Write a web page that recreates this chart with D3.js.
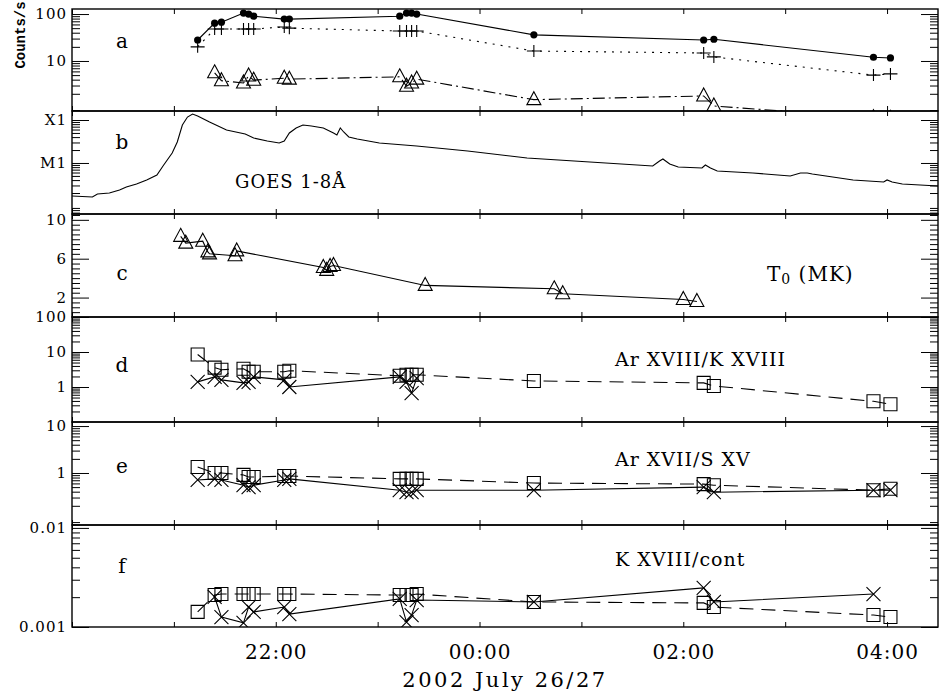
<!DOCTYPE html>
<html><head><meta charset="utf-8">
<script src="https://cdn.jsdelivr.net/npm/d3@7"></script>
<style>body{margin:0;background:#fff}svg{display:block}</style>
</head><body><svg id="chart" width="941" height="694"></svg>
<script>
// ---------------- data ----------------
const obsTimes = ["21:14","21:24","21:28","21:41","21:44","21:47","22:05","22:08","23:13","23:17","23:20","23:23","00:32","02:12","02:18","03:52","04:02"];
// panel a : count rates
const countsDot  = [28,64,67,105,100,90,78,78,90,105,105,100,36,28,29,12,11.6];
const countsPlus = [20,48,48,48,48,48,53,50,43.5,43.5,43.5,43.5,16.3,14.8,12.2,5.0,5.3];
const countsTri  = [null,5.6,3.8,3.4,4.8,3.9,4.3,4.1,4.6,2.9,3.4,4.1,1.5,1.8,1.1,0.62,0.6];
// panel b : GOES 1-8 A flux (W m^-2)
const goesTimes = ["20:00","20:12","20:15","20:22","20:28","20:32","20:38","20:44","20:50","20:54","20:59","21:02","21:05","21:08","21:11","21:14","21:21","21:31","21:42","21:47","21:55","22:02","22:05","22:08","22:12","22:16","22:21","22:28","22:34","22:36","22:38","22:40","22:43","22:48","23:01","23:23","23:53","00:28","01:05","01:42","01:46","01:48","01:52","01:57","02:11","02:13","02:16","02:20","02:41","03:03","03:09","03:13","03:16","03:40","03:58","04:00","04:03","04:09","04:30"];
const goesFlux = [1.71e-6,1.62e-6,1.9e-6,2.0e-6,2.35e-6,2.77e-6,3.25e-6,4.03e-6,5.26e-6,8.98e-6,1.71e-5,3.08e-5,7.65e-5,1.17e-4,1.38e-4,1.24e-4,8.98e-5,5.85e-5,4.72e-5,3.81e-5,3.25e-5,2.92e-5,3.25e-5,4.99e-5,6.52e-5,7.65e-5,7.25e-5,6.52e-5,4.99e-5,4.48e-5,6.52e-5,5.26e-5,4.03e-5,3.61e-5,2.92e-5,2.49e-5,1.9e-5,1.31e-5,1.05e-5,8.5e-6,1.11e-5,1.24e-5,9.5e-6,8.07e-6,7.65e-6,8.98e-6,7.65e-6,6.52e-6,5.85e-6,4.99e-6,5.85e-6,5.85e-6,5.55e-6,4.03e-6,3.61e-6,4.03e-6,3.61e-6,3.25e-6,2.92e-6];
// panel c : temperature T0 (MK)
const tempTimes = ["21:04","21:07","21:17","21:20","21:21","21:36","21:37","22:28","22:30","22:32","22:34","23:28","00:44","00:49","02:00","02:08"];
const tempVals  = [8.3,7.6,7.8,6.7,6.5,6.3,6.8,5.1,4.8,5.2,5.3,3.25,2.9,2.4,1.8,1.6];
// panel d : Ar XVIII / K XVIII
const ratioDSq = [8.5,3.57,3.12,3.33,2.73,2.73,2.73,2.92,2.09,2.23,2.23,2.23,1.49,1.31,1.07,0.39,0.32];
const ratioDX  = [1.40,1.95,1.6,1.31,1.40,1.95,1.6,1.0,1.95,1.4,0.67,1.8,null,null,null,null,null];
// panel e : Ar XVII / S XV
const ratioESq = [1.34,1.0,1.0,0.91,0.82,0.82,0.86,0.86,0.75,0.75,0.75,0.75,0.61,0.58,0.55,0.43,0.46];
const ratioEX  = [0.71,0.75,0.71,0.55,0.50,0.55,0.71,0.75,0.43,0.39,0.39,0.43,0.43,0.50,0.39,0.43,0.43];
// panel f : K XVIII / continuum
const ratioFSq = [0.00142,0.0021,0.00215,0.00215,0.00215,0.00215,0.00215,0.00215,0.0021,0.0021,0.0021,0.00215,0.00179,0.00175,0.00159,0.00132,0.00126];
const ratioFX  = [null,0.00201,0.00126,0.0011,0.00159,0.00142,0.00159,0.00135,0.00192,0.00112,0.00132,0.00187,0.00179,0.00248,0.00179,0.00215,null];
// axis tick labels
const timeTickVals = [22,24,26,28];
const timeTickLabels = ["22:00","00:00","02:00","04:00"];
const aTicks = [10,100],        aLabels = ["10","100"];
const bTicks = [1e-5,1e-4],     bLabels = ["M1","X1"];
const cTicks = [2,6,10],        cLabels = ["2","6","10"];
const dTicks = [1,10,100],      dLabels = ["1","10","100"];
const eTicks = [1,10],          eLabels = ["1","10"];
const fTicks = [0.001,0.01],    fLabels = ["0.001","0.01"];

// ---------------- helpers ----------------
const parseT = s => { const [h,m] = s.split(":").map(Number); return (h < 12 ? h + 24 : h) + m/60; };
const svg = d3.select("#chart");
const L = 72, R = 938;
const x = d3.scaleLinear().domain([20, 28.5]).range([L, R]);
const FONT = "'DejaVu Serif', serif";

const bounds = [9, 111, 214, 317, 422, 525, 627];
const panelDefs = [
  {id:"a", type:"log", domain:[0.86,128],      ticks:aTicks, labels:aLabels, ly:48},
  {id:"b", type:"log", domain:[6.5e-7,1.62e-4],ticks:bTicks, labels:bLabels, ly:149},
  {id:"c", type:"lin", domain:[0,10.6],        ticks:cTicks, labels:cLabels, ly:280},
  {id:"d", type:"log", domain:[0.1,100],       ticks:dTicks, labels:dLabels, ly:372},
  {id:"e", type:"log", domain:[0.078,12.2],    ticks:eTicks, labels:eLabels, ly:473},
  {id:"f", type:"log", domain:[0.001,0.0107],  ticks:fTicks, labels:fLabels, ly:573}
];
const hourTicks = d3.range(20, 29, 1);

const P = {};
panelDefs.forEach((p, i) => {
  const top = bounds[i], bot = bounds[i+1];
  const y = (p.type === "log" ? d3.scaleLog() : d3.scaleLinear()).domain(p.domain).range([bot, top]);
  p.y = y; p.top = top; p.bot = bot;
  P[p.id] = p;
  const g = svg.append("g");
  p.g = g;
  svg.append("clipPath").attr("id", "clip" + p.id)
    .append("rect").attr("x", L).attr("y", top).attr("width", R - L).attr("height", bot - top);
  p.plot = g.append("g").attr("clip-path", `url(#clip${p.id})`);

  // minor ticks
  let minor;
  if (p.type === "log") {
    minor = [];
    const lo = Math.floor(Math.log10(p.domain[0])), hi = Math.ceil(Math.log10(p.domain[1]));
    for (let k = lo; k <= hi; k++) for (let m = 2; m <= 9; m++) {
      const v = m * Math.pow(10, k);
      if (v >= p.domain[0] && v <= p.domain[1]) minor.push(v);
    }
  } else {
    minor = d3.range(0.5, 10.6, 0.5).filter(v => !p.ticks.includes(v));
  }
  const axes = [
    [d3.axisLeft(y).tickValues(minor).tickSize(-8).tickFormat(""), L],
    [d3.axisRight(y).tickValues(minor).tickSize(-8).tickFormat(""), R],
    [d3.axisLeft(y).tickValues(p.ticks).tickSize(-17).tickFormat(""), L],
    [d3.axisRight(y).tickValues(p.ticks).tickSize(-17).tickFormat(""), R]
  ];
  axes.forEach(([ax, tx]) => {
    const a = g.append("g").attr("transform", `translate(${tx},0)`).call(ax);
    a.select(".domain").remove();
    a.selectAll("line").attr("stroke", "#000").attr("stroke-width", 1);
  });
  // tick labels
  const lab = g.append("g").attr("transform", `translate(${L},0)`)
    .call(d3.axisLeft(y).tickValues(p.ticks).tickSize(0).tickPadding(5)
      .tickFormat((d, j) => p.labels[j]));
  lab.select(".domain").remove();
  lab.selectAll("text").attr("font-family", FONT).attr("font-size", 15)
    .attr("letter-spacing", 1).attr("fill", "#000");

  // time ticks, top & bottom
  const tb = g.append("g").attr("transform", `translate(0,${bot})`)
    .call(d3.axisBottom(x).tickValues(hourTicks).tickSize(-5).tickFormat(""));
  tb.select(".domain").remove();
  tb.selectAll("line").attr("stroke", "#000");
  const tt = g.append("g").attr("transform", `translate(0,${top})`)
    .call(d3.axisTop(x).tickValues(hourTicks).tickSize(-5).tickFormat(""));
  tt.select(".domain").remove();
  tt.selectAll("line").attr("stroke", "#000");

  // frame
  g.append("rect").attr("x", L).attr("y", top).attr("width", R - L).attr("height", bot - top)
    .attr("fill", "none").attr("stroke", "#000").attr("stroke-width", 1.4);

  // panel letter
  g.append("text").attr("x", 122).attr("y", p.ly).attr("text-anchor", "middle")
    .attr("font-family", FONT).attr("font-size", 20).text(p.id);
});

// bottom labels
const bl = svg.append("g").attr("transform", `translate(0,${bounds[6]})`)
  .call(d3.axisBottom(x).tickValues(timeTickVals).tickSize(0).tickPadding(18)
    .tickFormat((d, i) => timeTickLabels[i]));
bl.select(".domain").remove();
bl.selectAll("text").attr("font-family", FONT).attr("font-size", 20).attr("letter-spacing", 1).attr("fill", "#000");
svg.append("text").attr("x", (L + R) / 2).attr("y", 687).attr("text-anchor", "middle")
  .attr("font-family", FONT).attr("font-size", 21).attr("letter-spacing", 2.5).text("2002 July 26/27");

svg.append("text").attr("transform", "translate(25,35) rotate(-90)").attr("text-anchor", "middle")
  .attr("font-family", "'Liberation Mono', monospace").attr("font-size", 14).attr("font-weight", "bold").text("Counts/s");

// ---------------- marks ----------------
const sym = {
  tri: "M0,-8L7,5L-7,5Z",
  sq: "M-6.5,-6.5H6.5V6.5H-6.5Z",
  plus: "M-7,0H7M0,-6V6",
  x: "M-7,-7L7,7M-7,7L7,-7"
};
function series(p, times, vals, opts) {
  const data = times.map((t, i) => ({t: parseT(t), v: vals[i]})).filter(d => d.v != null);
  const line = d3.line().x(d => x(d.t)).y(d => p.y(d.v));
  p.plot.append("path").datum(data).attr("d", line).attr("fill", "none")
    .attr("stroke", "#000").attr("stroke-width", 1.1)
    .attr("stroke-dasharray", opts.dash || null);
  if (opts.marker === "dot") {
    p.plot.selectAll(null).data(data).join("circle")
      .attr("cx", d => x(d.t)).attr("cy", d => p.y(d.v)).attr("r", 3.6).attr("fill", "#000");
  } else if (opts.marker) {
    p.plot.selectAll(null).data(data).join("path")
      .attr("transform", d => `translate(${x(d.t)},${p.y(d.v)})`)
      .attr("d", sym[opts.marker]).attr("fill", "none").attr("stroke", "#000").attr("stroke-width", 1.1);
  }
}
series(P.a, obsTimes, countsDot, {marker: "dot"});
series(P.a, obsTimes, countsPlus, {marker: "plus", dash: "2,6"});
series(P.a, obsTimes, countsTri, {marker: "tri", dash: "12,4,2,4"});
series(P.b, goesTimes, goesFlux, {});
series(P.c, tempTimes, tempVals, {marker: "tri"});
series(P.d, obsTimes, ratioDSq, {marker: "sq", dash: "14,8"});
series(P.d, obsTimes, ratioDX, {marker: "x"});
series(P.e, obsTimes, ratioESq, {marker: "sq", dash: "14,8"});
series(P.e, obsTimes, ratioEX, {marker: "x"});
series(P.f, obsTimes, ratioFSq, {marker: "sq", dash: "14,8"});
series(P.f, obsTimes, ratioFX, {marker: "x"});

// panel annotations
const ann = (txt, xx, yy, size, ls) => svg.append("text").attr("x", xx).attr("y", yy)
  .attr("font-family", FONT).attr("font-size", size).attr("letter-spacing", ls).text(txt);
ann("GOES 1-8Å", 235, 188, 18, 1);
const t0 = svg.append("text").attr("x", 767).attr("y", 281).attr("font-family", FONT).attr("font-size", 20).attr("letter-spacing", 1);
t0.append("tspan").text("T");
t0.append("tspan").attr("font-size", 14).attr("dy", 3).text("0");
t0.append("tspan").attr("dy", -3).text(" (MK)");
ann("Ar XVIII/K XVIII", 615, 366, 19, 1);
ann("Ar XVII/S XV", 615, 466, 19, 1);
ann("K XVIII/cont", 615, 566, 19, 1);
</script></body></html>
